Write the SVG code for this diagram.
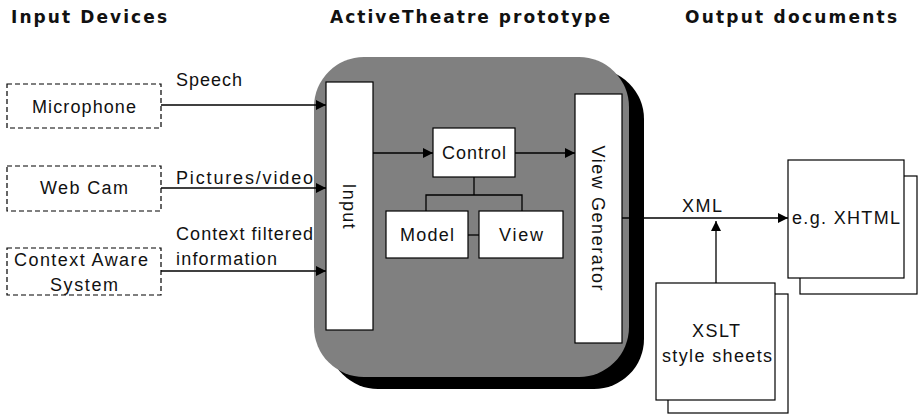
<svg xmlns="http://www.w3.org/2000/svg" width="919" height="415" viewBox="0 0 919 415">
<style>
.hdr{font-family:"DejaVu Sans",Verdana,sans-serif;font-weight:bold;font-size:17px;fill:#111}
.lbl{font-family:"Liberation Sans",Arial,sans-serif;font-size:18px;fill:#111}
.box{fill:#fff;stroke:#000;stroke-width:1.2}
.dash{fill:#fff;stroke:#000;stroke-width:1.2;stroke-dasharray:5 3}
.ln{stroke:#000;stroke-width:1.3;fill:none}
</style>
<defs>
<marker id="ah" viewBox="0 0 10 10" refX="10" refY="5" markerWidth="10" markerHeight="10" markerUnits="userSpaceOnUse" orient="auto">
<path d="M0,0 L10,5 L0,10 Z" fill="#000"/>
</marker>
</defs>
<rect width="919" height="415" fill="#fff"/>
<g id="headers">
<text class="hdr" x="11" y="23" textLength="156" lengthAdjust="spacing">Input Devices</text>
<text class="hdr" x="330" y="23" textLength="280" lengthAdjust="spacing">ActiveTheatre prototype</text>
<text class="hdr" x="685" y="23" textLength="212" lengthAdjust="spacing">Output documents</text>
</g>
<g id="prototype">
<rect x="328" y="69" width="316" height="320" rx="50" fill="#000"/>
<rect x="314" y="57" width="315" height="320" rx="50" fill="#808080"/>
</g>
<g id="microphone">
<rect class="dash" x="7" y="84" width="154" height="44"/>
<text class="lbl" x="84" y="113" text-anchor="middle" textLength="104" lengthAdjust="spacing">Microphone</text>
</g>
<g id="webcam">
<rect class="dash" x="7" y="166" width="154" height="45"/>
<text class="lbl" x="84" y="194" text-anchor="middle" textLength="88" lengthAdjust="spacing">Web Cam</text>
</g>
<g id="contextaware">
<rect class="dash" x="7" y="248" width="154" height="47"/>
<text class="lbl" x="81" y="266" text-anchor="middle" textLength="134" lengthAdjust="spacing">Context Aware</text>
<text class="lbl" x="84" y="291" text-anchor="middle" textLength="68" lengthAdjust="spacing">System</text>
</g>
<g id="input">
<rect class="box" x="326" y="82" width="47" height="248"/>
<text class="lbl" transform="translate(349,206) rotate(90)" text-anchor="middle" dy="6" textLength="45" lengthAdjust="spacing">Input</text>
</g>
<g id="control">
<rect class="box" x="433" y="128" width="82" height="49"/>
<text class="lbl" x="474" y="159" text-anchor="middle" textLength="64" lengthAdjust="spacing">Control</text>
</g>
<g id="model">
<rect class="box" x="386" y="211" width="82" height="47"/>
<text class="lbl" x="427" y="241" text-anchor="middle" textLength="54" lengthAdjust="spacing">Model</text>
</g>
<g id="view">
<rect class="box" x="479" y="211" width="84" height="47"/>
<text class="lbl" x="521" y="241" text-anchor="middle" textLength="44" lengthAdjust="spacing">View</text>
</g>
<g id="viewgenerator">
<rect class="box" x="575" y="94" width="47" height="249"/>
<text class="lbl" transform="translate(598,218) rotate(90)" text-anchor="middle" dy="6" textLength="145" lengthAdjust="spacing">View Generator</text>
</g>
<g id="xhtml">
<rect class="box" x="800" y="176" width="117" height="118"/>
<rect class="box" x="788" y="160" width="116" height="118"/>
<text class="lbl" x="846" y="224" text-anchor="middle" textLength="108" lengthAdjust="spacing">e.g. XHTML</text>
</g>
<g id="xslt">
<rect class="box" x="668" y="294" width="120" height="119"/>
<rect class="box" x="656" y="283" width="119" height="117"/>
<text class="lbl" x="716" y="337" text-anchor="middle" textLength="48" lengthAdjust="spacing">XSLT</text>
<text class="lbl" x="717" y="362" text-anchor="middle" textLength="110" lengthAdjust="spacing">style sheets</text>
</g>
<g id="connectors">
<line class="ln" x1="161" y1="105" x2="326" y2="105" marker-end="url(#ah)"/>
<line class="ln" x1="161" y1="188" x2="326" y2="188" marker-end="url(#ah)"/>
<line class="ln" x1="161" y1="271" x2="326" y2="271" marker-end="url(#ah)"/>
<line class="ln" x1="373" y1="153" x2="433" y2="153" marker-end="url(#ah)"/>
<line class="ln" x1="515" y1="153" x2="575" y2="153" marker-end="url(#ah)"/>
<polyline class="ln" points="474,177 474,195"/>
<polyline class="ln" points="426,211 426,195 522,195 522,211"/>
<line class="ln" x1="468" y1="235" x2="479" y2="235"/>
<line class="ln" x1="622" y1="218" x2="788" y2="218" marker-end="url(#ah)"/>
<line class="ln" x1="716" y1="283" x2="716" y2="221" marker-end="url(#ah)"/>
<text class="lbl" x="176" y="86" textLength="66" lengthAdjust="spacing">Speech</text>
<text class="lbl" x="176" y="184" textLength="137" lengthAdjust="spacing">Pictures/video</text>
<text class="lbl" x="176" y="240" textLength="137" lengthAdjust="spacing">Context filtered</text>
<text class="lbl" x="176" y="265" textLength="101" lengthAdjust="spacing">information</text>
<text class="lbl" x="682" y="212" textLength="40" lengthAdjust="spacing">XML</text>
</g>
</svg>
